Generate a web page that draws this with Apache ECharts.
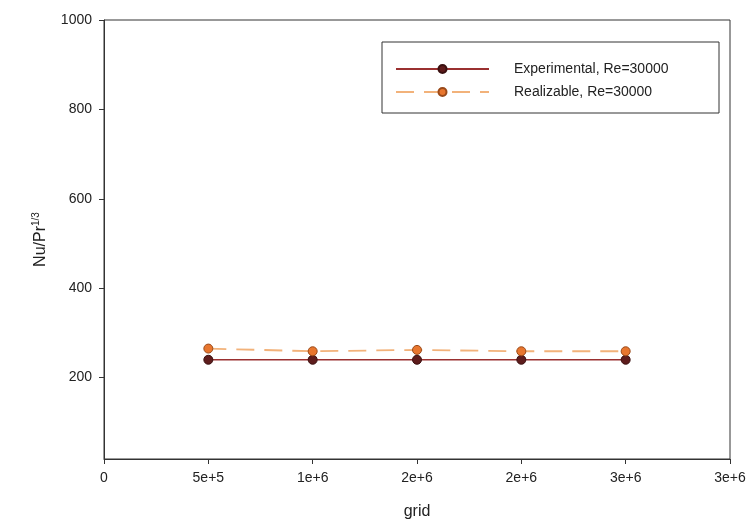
<!DOCTYPE html>
<html>
<head>
<meta charset="utf-8">
<script src="https://cdn.jsdelivr.net/npm/echarts@6/dist/echarts.min.js"></script>
<style>
  html, body { margin: 0; padding: 0; background: #fff; }
  #chart { width: 750px; height: 530px; }
</style>
</head>
<body>
<div id="chart"></div>
<script>
// Grid sizes (cells) and the two Nu/Pr^(1/3) series
const gridSizes = [500000, 1000000, 1500000, 2000000, 2500000];
const experimental = [240, 240, 240, 240, 240];
const realizable = [265, 259, 262, 259, 259];

// Tick labels as printed on the axes
const xTickValues = [0, 500000, 1000000, 1500000, 2000000, 2500000, 3000000];
const xTickLabels = ['0', '5e+5', '1e+6', '2e+6', '2e+6', '3e+6', '3e+6'];
const yTickValues = [200, 400, 600, 800, 1000];

const seriesNames = ['Experimental, Re=30000', 'Realizable, Re=30000'];

const font = '"Liberation Sans", Arial, sans-serif';
const chart = echarts.init(document.getElementById('chart'));

const pairs = (ys) => gridSizes.map((x, i) => [x, ys[i]]);

chart.setOption({
  animation: false,
  backgroundColor: '#fff',
  textStyle: { fontFamily: font },
  grid: {
    left: 104, right: 20, top: 20, bottom: 71,
    show: true, borderColor: '#333', borderWidth: 1, backgroundColor: 'transparent'
  },
  graphic: [{
    type: 'rect',
    shape: { x: 382, y: 42, width: 337, height: 71 },
    style: { fill: '#fff', stroke: '#333', lineWidth: 1 },
    z: 1
  }],
  legend: {
    orient: 'vertical',
    left: 395, top: 62,
    padding: 0,
    itemWidth: 93, itemHeight: 10, itemGap: 9,
    textStyle: { fontFamily: font, fontSize: 14, color: '#222', padding: [0, 0, 0, 20] },
    data: seriesNames,
    z: 5
  },
  xAxis: {
    type: 'value',
    min: 0, max: 3000000, interval: 500000,
    name: 'grid',
    nameLocation: 'middle',
    nameGap: 45,
    nameTextStyle: { fontFamily: font, fontSize: 16, color: '#222' },
    splitLine: { show: false },
    axisLine: { show: true, lineStyle: { color: '#333', width: 1 } },
    axisTick: { show: true, length: 5, lineStyle: { color: '#333' } },
    axisLabel: {
      fontFamily: font, fontSize: 14, color: '#222', margin: 12,
      formatter: (v) => {
        const i = xTickValues.indexOf(v);
        return i >= 0 ? xTickLabels[i] : '';
      }
    }
  },
  yAxis: {
    type: 'value',
    min: 18, max: 1000,
    name: '{b|Nu/Pr}{s|1/3}',
    nameLocation: 'middle',
    nameRotate: 90,
    nameGap: 53,
    nameTextStyle: {
      fontFamily: font, color: '#222',
      rich: {
        b: { fontFamily: font, fontSize: 16, color: '#222' },
        s: { fontFamily: font, fontSize: 10, color: '#222', padding: [0, 0, 10, 0] }
      }
    },
    splitLine: { show: false },
    axisLine: { show: true, lineStyle: { color: '#333', width: 1 } },
    axisTick: { show: true, length: 5, customValues: yTickValues, lineStyle: { color: '#333' } },
    axisLabel: {
      fontFamily: font, fontSize: 14, color: '#222', margin: 12,
      customValues: yTickValues,
      formatter: (v) => String(v)
    }
  },
  series: [
    {
      name: seriesNames[0],
      type: 'line',
      data: pairs(experimental),
      symbol: 'circle',
      symbolSize: 9,
      lineStyle: { color: '#9a3030', width: 1.5 },
      itemStyle: { color: '#5e1c1c', borderColor: '#3a1010', borderWidth: 1 },
      z: 3
    },
    {
      name: seriesNames[1],
      type: 'line',
      data: pairs(realizable),
      symbol: 'circle',
      symbolSize: 9,
      lineStyle: { color: '#f2b27a', width: 1.8, type: [18, 10] },
      itemStyle: { color: '#e8762e', borderColor: '#9a4a1a', borderWidth: 1 },
      z: 4
    }
  ]
});
</script>
</body>
</html>
